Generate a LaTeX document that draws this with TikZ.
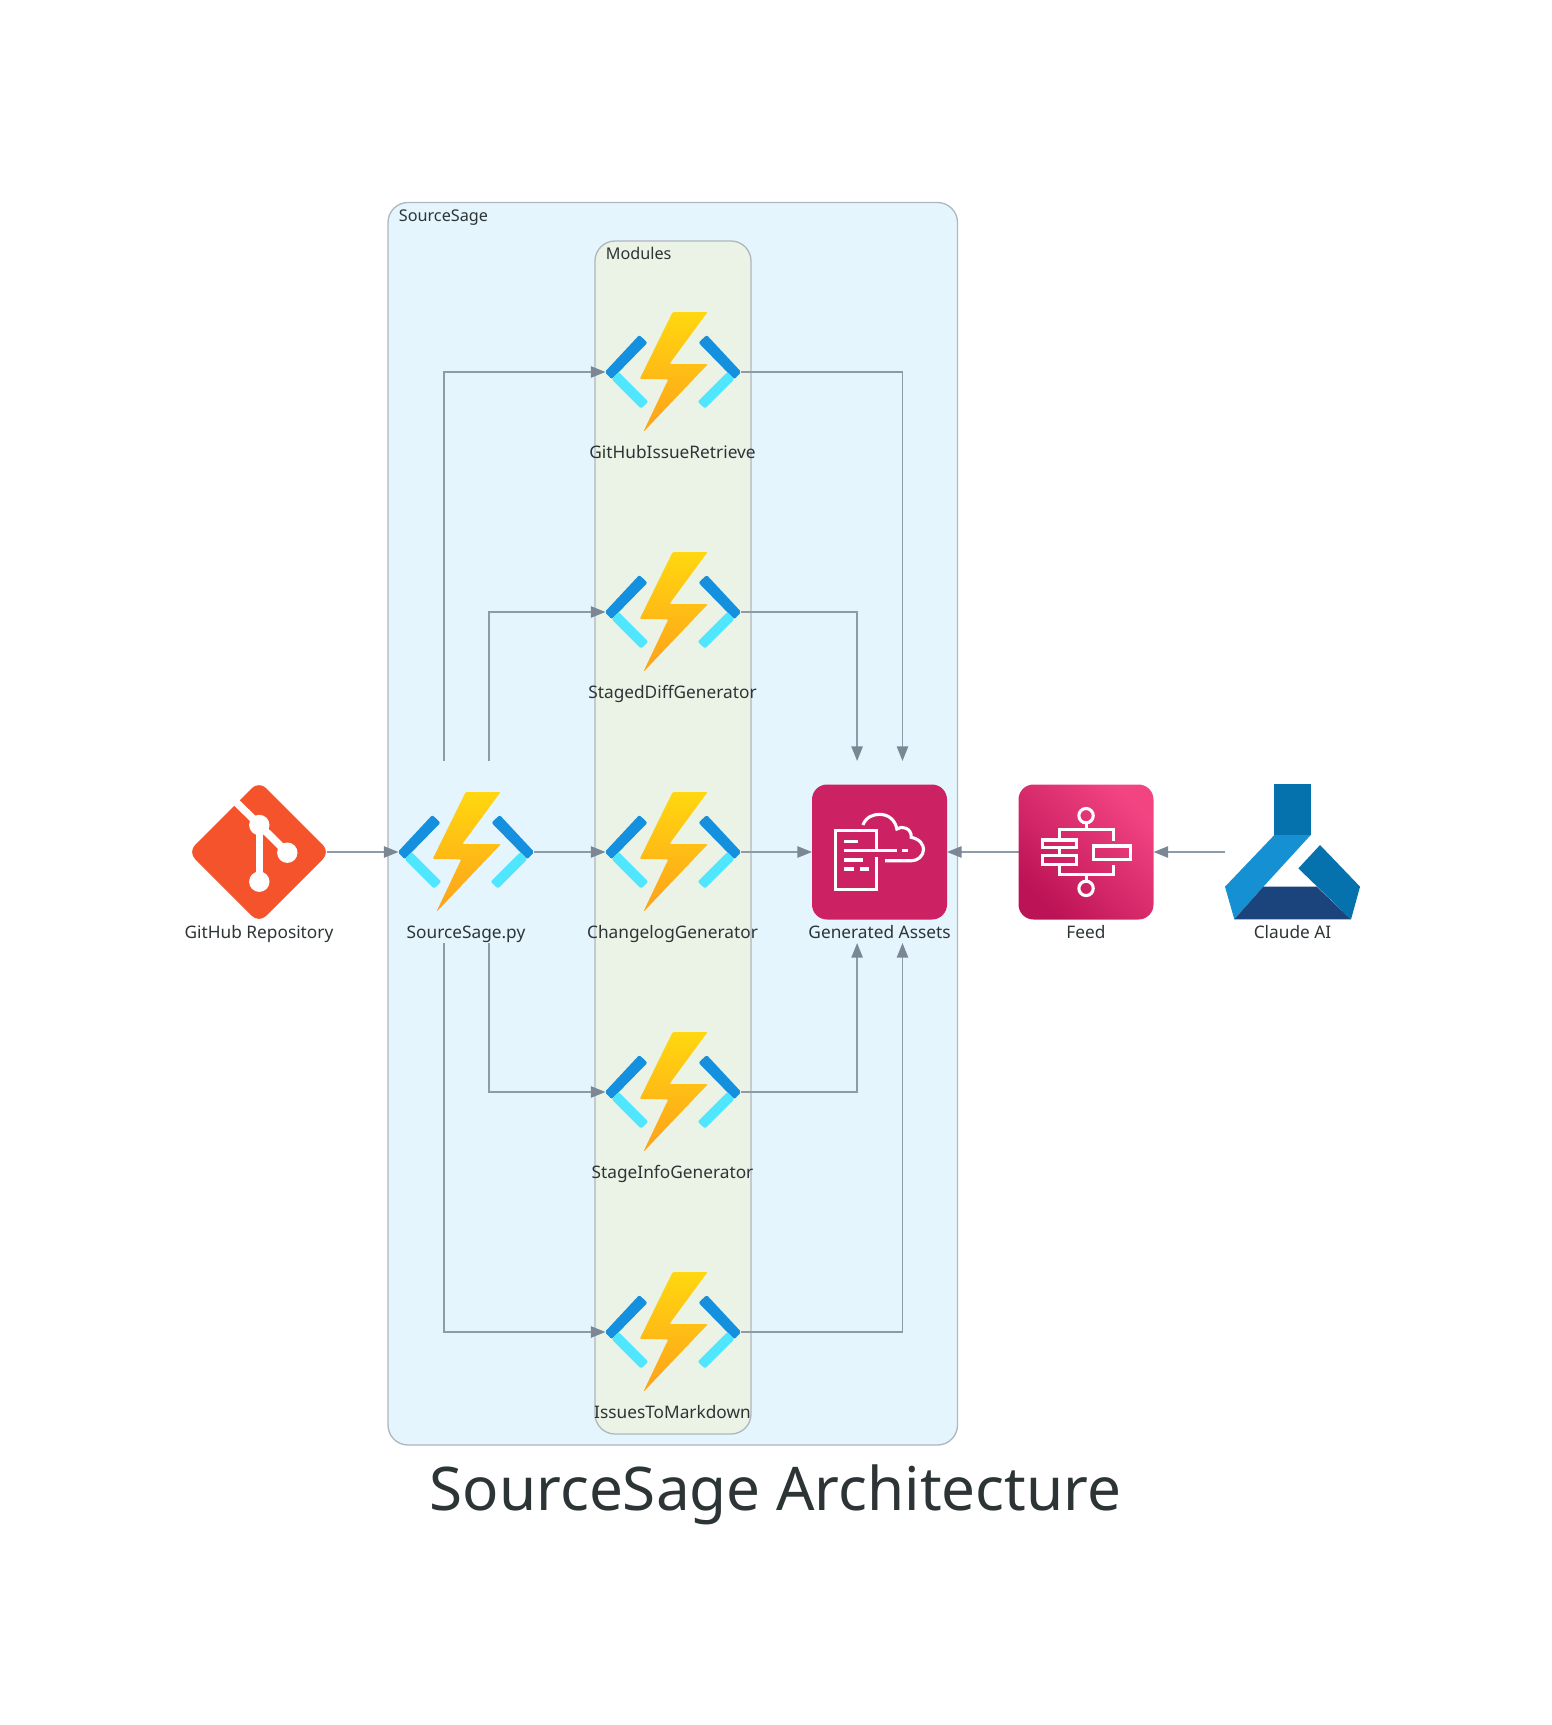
\documentclass[tikz,border=0pt]{standalone}
\usepackage{fontspec}
\setmainfont{Noto Sans}
\usetikzlibrary{arrows.meta,calc}
\definecolor{txt}{HTML}{2D3436}
\definecolor{edgec}{HTML}{8E9AA6}
\definecolor{tipc}{HTML}{7B8794}
\definecolor{clborder}{HTML}{AEB6BE}
\definecolor{clblue}{HTML}{E5F5FD}
\definecolor{clgreen}{HTML}{EBF3E7}
\definecolor{fdark}{HTML}{1490DF}
\definecolor{flight}{HTML}{50E6FF}
\definecolor{bolttop}{HTML}{FFD70F}
\definecolor{boltmid}{HTML}{FFB019}
\definecolor{boltbot}{HTML}{FEA11B}
\definecolor{gitc}{HTML}{F5532B}
\definecolor{asset}{HTML}{CC2264}
\definecolor{feedlo}{HTML}{BC1356}
\definecolor{feedhi}{HTML}{F34482}
\definecolor{clmid}{HTML}{0572AD}
\definecolor{cllight}{HTML}{1591D3}
\definecolor{clnavy}{HTML}{1A447B}
\tikzset{
  x=0.5pt,y=-0.5pt,
  iconnode/.style={inner sep=0pt,outer sep=0pt,minimum width=67.5pt,minimum height=91pt},
  lab/.style={anchor=base,text=txt,font=\fontsize{8.63}{10}\selectfont,inner sep=0pt},
  cllab/.style={anchor=base west,text=txt,font=\fontsize{8.1}{10}\selectfont,inner sep=0pt},
  cluster/.style={draw=clborder,line width=0.65pt,rounded corners=10pt},
  flow/.style={draw=edgec,line width=0.95pt,-{Triangle[length=7.3pt,width=5.6pt,fill=tipc,color=tipc]}},
  wline/.style={draw=white,line width=1.55pt},
  pics/funcicon/.style={code={
    \fill[fdark,rounded corners=1pt] (-68.2,0) -- (-33.7,-37) -- (-25.5,-29.3) -- (-61.3,7.3) -- cycle;
    \fill[flight,rounded corners=1pt] (-61.3,7.3) -- (-54.5,0) -- (-24.6,29.7) -- (-32,36.6) -- cycle;
    \fill[fdark,rounded corners=1pt] (68.2,0) -- (33.7,-37) -- (25.5,-29.3) -- (61.3,7.3) -- cycle;
    \fill[flight,rounded corners=1pt] (61.3,7.3) -- (54.5,0) -- (24.6,29.7) -- (32,36.6) -- cycle;
    \shade[top color=bolttop,middle color=boltmid,bottom color=boltbot,rounded corners=0.6pt]
      (-0.3,-60) -- (34.6,-60) -- (-3.7,-8) -- (35,-8) -- (-29.7,60) -- (-4.7,7.3) -- (-33.3,7) -- cycle;
  }},
  pics/giticon/.style={code={
    \fill[gitc,rounded corners=5pt] (0,-71) -- (71,0) -- (0,71) -- (-71,0) -- cycle;
    \draw[white,line width=3.8pt] (-24,-51) -- (0.3,-27) -- (28.3,0.7);
    \draw[white,line width=3.6pt] (0.3,-27) -- (0.3,29.7);
    \fill[white] (0.3,-27) circle (5.1pt) (28.3,0.7) circle (5.1pt) (0.3,29.7) circle (5.1pt);
  }},
  pics/asseticon/.style={code={
    \fill[asset,rounded corners=7.5pt] (-67.5,-67.5) rectangle (67.5,67.5);
    \begin{scope}[shift={(-99.33,-92)},x=0.1667pt,y=-0.1667pt,wline,line cap=butt]
      \draw (288,268) -- (288,212) -- (167,212) -- (167,388) -- (288,388) -- (288,292);
      \draw (192,245) -- (232,245);
      \draw (192,272) -- (350,272) (365,272) -- (383,272);
      \draw (192,300) -- (248,300);
      \draw (192,327) -- (222,327) (240,327) -- (265,327);
      \draw (248,195) .. controls (258,170) and (280,163) .. (298,163)
         .. controls (325,163) and (345,180) .. (350,207)
         .. controls (365,195) and (395,205) .. (393,232)
         .. controls (420,237) and (430,255) .. (430,268)
         .. controls (430,288) and (412,302) .. (395,302) -- (315,302);
    \end{scope}
  }},
  pics/feedicon/.style={code={
    \shade[bottom color=feedlo,top color=feedhi,shading angle=-45,rounded corners=7.5pt] (-67.5,-67.5) rectangle (67.5,67.5);
    \begin{scope}[shift={(-306,-92)},x=0.1667pt,y=-0.1667pt,wline]
      \draw (918,167) circle (3.6pt);
      \draw (918,385) circle (3.6pt);
      \draw (918,190) -- (918,208);
      \draw (838,240) -- (838,208) -- (1000,208) -- (1000,242);
      \draw (788,240) rectangle (888,262);
      \draw (788,287) rectangle (888,314);
      \draw (940,258) rectangle (1050,298);
      \draw (838,262) -- (838,287);
      \draw (838,314) -- (838,343) -- (1000,343) -- (1000,315);
      \draw (918,343) -- (918,362);
    \end{scope}
  }},
  pics/flaskicon/.style={code={
    \begin{scope}[shift={(-112.5,-92)},x=0.1667pt,y=-0.1667pt]
      \fill[clmid] (283,73) rectangle (392,226);
      \fill[cllight] (283,225) -- (392,225) -- (250,380) -- (163,478) -- (135,380) -- cycle;
      \fill[clnavy] (250,380) -- (410,380) -- (513,478) -- (163,478) -- cycle;
      \fill[clmid] (420,255) -- (540,380) -- (513,478) -- (355,325) -- cycle;
    \end{scope}
  }},
}
\begin{document}
\begin{tikzpicture}
\useasboundingbox (0,0) rectangle (1552,1725);
% clusters
\draw[cluster,fill=clblue] (388,202.5) rectangle (957.5,1445);
\draw[cluster,fill=clgreen] (595,241) rectangle (751,1434);
\node[cllab] (clA) at (398.5,221) {SourceSage};
\node[cllab] (clB) at (605.5,259.5) {Modules};
% nodes
\node[iconnode] (gh) at (259,852) {};
\node[iconnode] (ss) at (466,852) {};
\node[iconnode] (fn1) at (673,372) {};
\node[iconnode] (fn2) at (673,612) {};
\node[iconnode] (fn3) at (673,852) {};
\node[iconnode] (fn4) at (673,1092) {};
\node[iconnode] (fn5) at (673,1332) {};
\node[iconnode] (assets) at (879.5,852) {};
\node[iconnode] (feed) at (1086,852) {};
\node[iconnode] (claude) at (1292.5,852) {};
% connectors
\draw[flow] (gh.east) -- (ss.west);
\draw[flow] ([xshift=-11pt]ss.north) |- (fn1.west);
\draw[flow] ([xshift=11.65pt]ss.north) |- (fn2.west);
\draw[flow] (ss.east) -- (fn3.west);
\draw[flow] ([xshift=11.65pt]ss.south) |- (fn4.west);
\draw[flow] ([xshift=-11pt]ss.south) |- (fn5.west);
\draw[flow] (fn1.east) -| ([xshift=11.5pt]assets.north);
\draw[flow] (fn2.east) -| ([xshift=-11.2pt]assets.north);
\draw[flow] (fn3.east) -- (assets.west);
\draw[flow] (fn4.east) -| ([xshift=-11.2pt]assets.south);
\draw[flow] (fn5.east) -| ([xshift=11.5pt]assets.south);
\draw[flow] (feed.west) -- (assets.east);
\draw[flow] (claude.west) -- (feed.east);
% icons
\path (gh.center) pic {giticon};
\path (ss.center) pic {funcicon};
\path (fn1.center) pic {funcicon};
\path (fn2.center) pic {funcicon};
\path (fn3.center) pic {funcicon};
\path (fn4.center) pic {funcicon};
\path (fn5.center) pic {funcicon};
\path (assets.center) pic {asseticon};
\path (feed.center) pic {feedicon};
\path (claude.center) pic {flaskicon};
% labels
\node[lab] (lgh) at (259,938) {GitHub Repository};
\node[lab] (lss) at (466,938) {SourceSage.py};
\node[lab] (lf1) at (672.5,458) {GitHubIssueRetrieve};
\node[lab] (lf2) at (672.5,698) {StagedDiffGenerator};
\node[lab] (lf3) at (672.5,938) {ChangelogGenerator};
\node[lab] (lf4) at (672.5,1178) {StageInfoGenerator};
\node[lab] (lf5) at (672.5,1418) {IssuesToMarkdown};
\node[lab] (las) at (879.5,938) {Generated Assets};
\node[lab] (lfe) at (1086,938) {Feed};
\node[lab] (lcl) at (1292.5,938) {Claude AI};
\node[anchor=base,text=txt,font=\fontsize{30.1}{36}\selectfont,inner sep=0pt] (title) at (775.5,1510) {SourceSage Architecture};
\end{tikzpicture}
\end{document}
